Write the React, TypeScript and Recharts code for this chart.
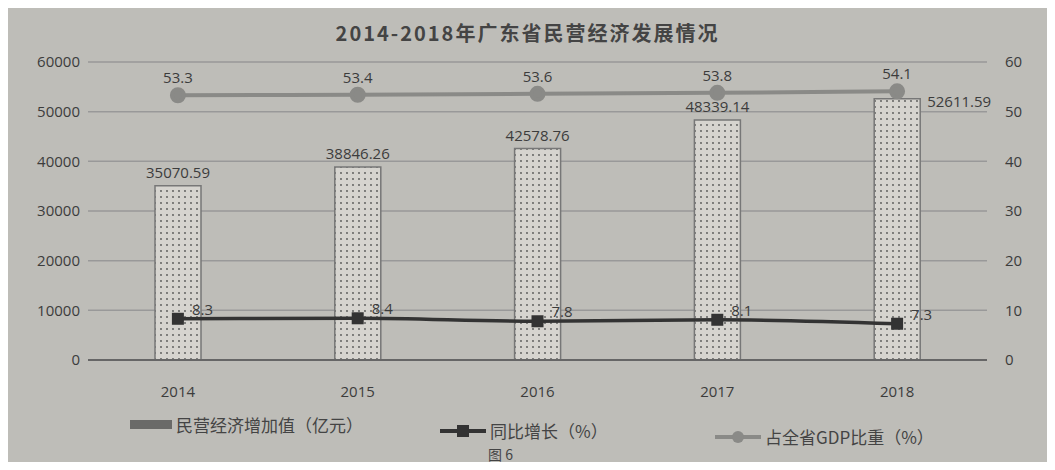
import {
  ComposedChart,
  Bar,
  Line,
  XAxis,
  YAxis,
  CartesianGrid,
  LabelList,
  ReferenceLine,
} from "recharts";

const YEARS = ["2014", "2015", "2016", "2017", "2018"];
const ADDED_VALUE = [35070.59, 38846.26, 42578.76, 48339.14, 52611.59];
const GROWTH = [8.3, 8.4, 7.8, 8.1, 7.3];
const GDP_SHARE = [53.3, 53.4, 53.6, 53.8, 54.1];
const LEFT_TICKS = [0, 10000, 20000, 30000, 40000, 50000, 60000];
const RIGHT_TICKS = [0, 10, 20, 30, 40, 50, 60];

const data = YEARS.map((year, i) => ({
  year,
  value: ADDED_VALUE[i],
  growth: GROWTH[i],
  share: GDP_SHARE[i],
}));

const BG = "#bebdb8";
const TEXT = "#3c3c3c";
const FONT = "'Open Sans', 'Noto Sans CJK SC', sans-serif";
const CJK = "'Noto Sans CJK SC', sans-serif";

// square marker for growth line
const SquareDot = (props: any) => {
  const { cx, cy } = props;
  if (cx == null || cy == null) return null;
  return <rect x={cx - 6} y={cy - 6} width={12} height={12} fill="#333" />;
};

const growthLabel = (props: any) => {
  const { x, y, value } = props;
  return (
    <text x={x + 14} y={y - 4} fill={TEXT} fontSize={15} fontFamily={FONT}>
      {value}
    </text>
  );
};

// bar value label; the last one sits to the right of the bar top, like the original
const barLabel = (props: any) => {
  const { x, y, width, value, index } = props;
  const last = index === ADDED_VALUE.length - 1;
  const cx = x + width / 2 + (last ? 62 : 0);
  const ty = last ? y + 8 : y - 8;
  return (
    <text x={cx} y={ty} textAnchor="middle" fill={TEXT} fontSize={15} fontFamily={FONT}>
      {value}
    </text>
  );
};

const legendItem = { position: "absolute" as const, display: "flex", alignItems: "center" };

export default function App() {
  return (
    <div style={{ position: "relative", width: 1039, height: 454, background: BG, fontFamily: FONT }}>
      <div
        style={{
          position: "absolute",
          top: 10,
          left: 0,
          width: "100%",
          textAlign: "center",
          fontSize: 20,
          fontWeight: "bold",
          color: "#444",
          letterSpacing: 2,
          fontFamily: CJK,
        }}
      >
        2014-2018年广东省民营经济发展情况
      </div>

      <ComposedChart
        width={1039}
        height={454}
        data={data}
        margin={{ top: 54, right: 10, left: 10, bottom: 72 }}
      >
        <defs>
          <pattern id="dots" width="6" height="6" patternUnits="userSpaceOnUse">
            <rect width="6" height="6" fill="#d6d4cf" />
            <circle cx="3" cy="3" r="0.9" fill="#555" />
          </pattern>
        </defs>
        <CartesianGrid vertical={false} stroke="#999" strokeWidth={1.5} yAxisId="left" />
        <XAxis
          dataKey="year"
          axisLine={false}
          tickLine={false}
          height={30}
          tick={{ fill: TEXT, fontSize: 15, fontFamily: FONT, dy: 18 }}
        />
        <YAxis
          yAxisId="left"
          domain={[0, 60000]}
          ticks={LEFT_TICKS}
          axisLine={false}
          tickLine={false}
          width={70}
          tick={{ fill: TEXT, fontSize: 15, fontFamily: FONT }}
        />
        <YAxis
          yAxisId="right"
          orientation="right"
          domain={[0, 60]}
          ticks={RIGHT_TICKS}
          axisLine={false}
          tickLine={false}
          width={50}
          tick={{ fill: TEXT, fontSize: 15, fontFamily: FONT, dx: 10 }}
        />
        <ReferenceLine yAxisId="left" y={0} stroke="#666" strokeWidth={2} />
        <Bar
          yAxisId="left"
          dataKey="value"
          barSize={46}
          fill="url(#dots)"
          stroke="#777"
          strokeWidth={1.5}
          isAnimationActive={false}
        >
          <LabelList dataKey="value" content={barLabel} />
        </Bar>
        <Line
          yAxisId="right"
          type="monotone"
          dataKey="share"
          stroke="#8a8a87"
          strokeWidth={4}
          dot={{ r: 6, fill: "#8a8a87", stroke: "#8a8a87" }}
          isAnimationActive={false}
        >
          <LabelList dataKey="share" position="top" offset={12} fill={TEXT} fontSize={15} fontFamily={FONT} />
        </Line>
        <Line
          yAxisId="right"
          type="monotone"
          dataKey="growth"
          stroke="#333"
          strokeWidth={3.5}
          dot={<SquareDot />}
          isAnimationActive={false}
        >
          <LabelList dataKey="growth" content={growthLabel} />
        </Line>
      </ComposedChart>

      <div style={{ fontSize: 17, color: "#444", fontFamily: CJK }}>
        <span style={{ ...legendItem, top: 404, left: 122 }}>
          <span style={{ display: "inline-block", width: 42, height: 9, background: "#6a6a68", marginRight: 4 }} />
          民营经济增加值（亿元）
        </span>
        <span style={{ ...legendItem, top: 410, left: 432 }}>
          <svg width={46} height={14} style={{ marginRight: 4 }}>
            <line x1={0} y1={7} x2={46} y2={7} stroke="#333" strokeWidth={4} />
            <rect x={17} y={1} width={12} height={12} fill="#333" />
          </svg>
          同比增长（%）
        </span>
        <span style={{ ...legendItem, top: 416, left: 707 }}>
          <svg width={46} height={14} style={{ marginRight: 4 }}>
            <line x1={0} y1={7} x2={46} y2={7} stroke="#8a8a87" strokeWidth={4} />
            <circle cx={23} cy={7} r={6} fill="#8a8a87" />
          </svg>
          占全省GDP比重（%）
        </span>
      </div>
      <div
        style={{
          position: "absolute",
          top: 436,
          left: 480,
          fontSize: 14,
          color: "#444",
          fontFamily: CJK,
        }}
      >
        图 6
      </div>
    </div>
  );
}
